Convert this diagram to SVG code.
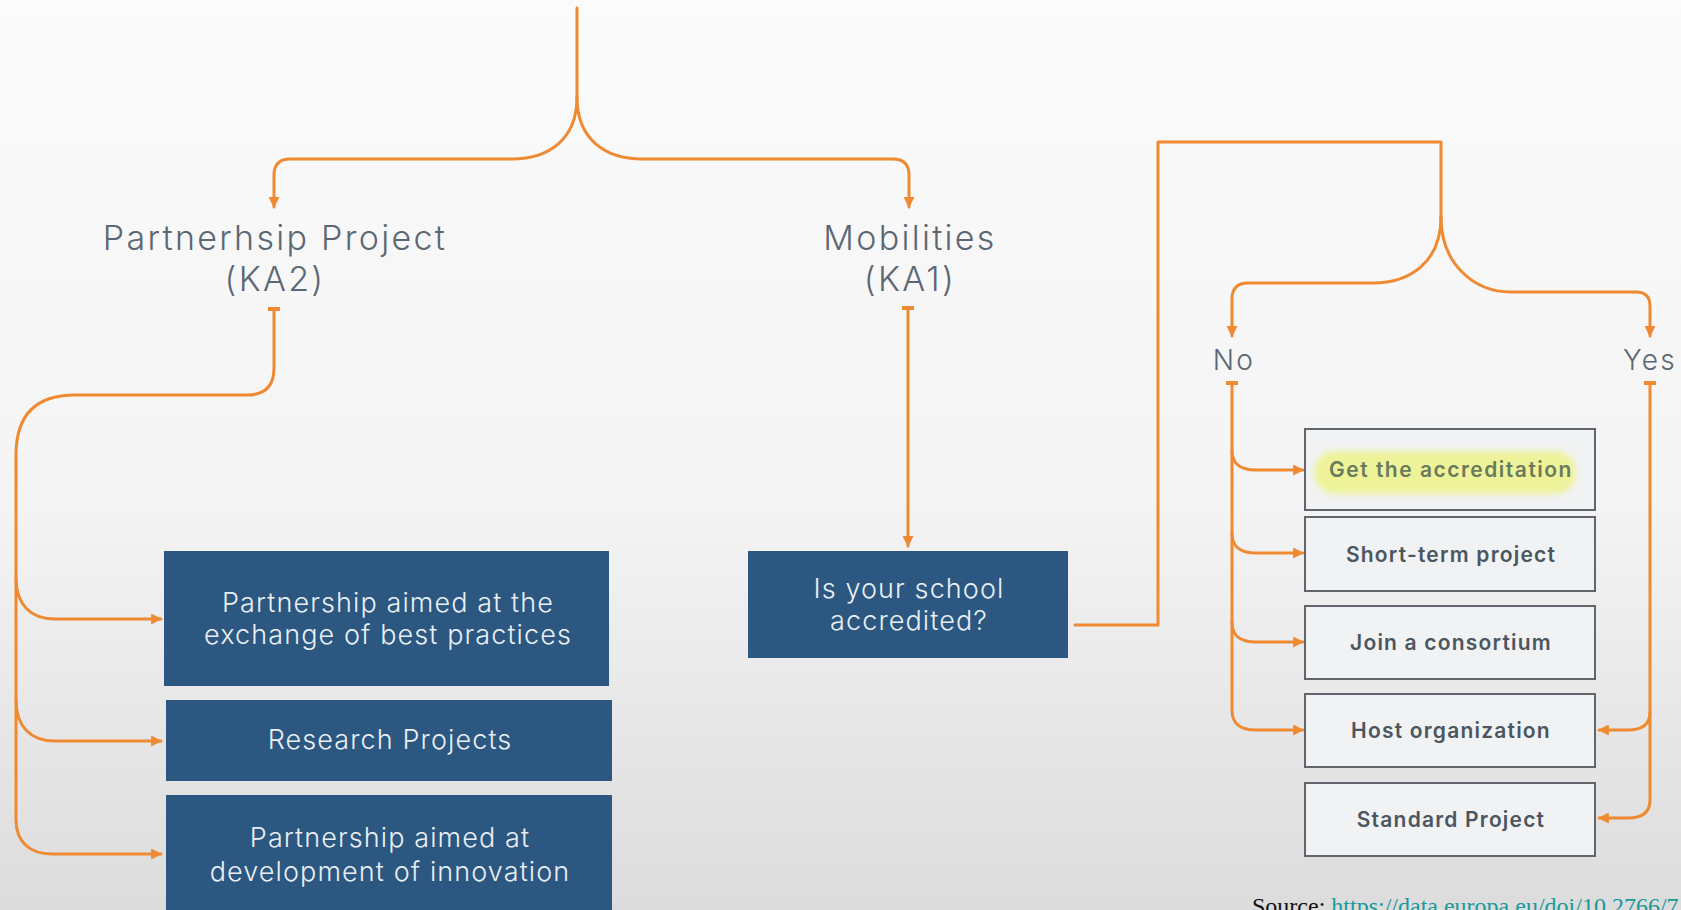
<svg xmlns="http://www.w3.org/2000/svg" width="1681" height="910" viewBox="0 0 1681 910">
  <defs>
    <linearGradient id="bg" x1="0" y1="0" x2="0" y2="1">
      <stop offset="0" stop-color="#fbfbfb"/>
      <stop offset="0.55" stop-color="#f4f4f4"/>
      <stop offset="1" stop-color="#dcdcdc"/>
    </linearGradient>
    <marker id="arrow" viewBox="0 0 10 10" refX="9" refY="5" markerWidth="11" markerHeight="11" markerUnits="userSpaceOnUse" orient="auto">
      <path d="M0,0 L10,5 L0,10 z" fill="#ef8a33"/>
    </marker>
    <marker id="tick" viewBox="0 0 4 12" refX="2" refY="6" markerWidth="4" markerHeight="12" markerUnits="userSpaceOnUse" orient="auto">
      <rect x="0" y="0" width="4" height="12" fill="#ef8a33"/>
    </marker>
    <filter id="soft" x="-10%" y="-30%" width="120%" height="160%">
      <feGaussianBlur stdDeviation="3"/>
    </filter>
    <style>
      .wire { fill: none; stroke: #ef8a33; stroke-width: 3; stroke-linecap: round; stroke-linejoin: round; }
      .to { marker-end: url(#arrow); }
      .from { marker-start: url(#tick); }
      .label { font-family: Inter, "Liberation Sans", sans-serif; font-weight: 300; fill: #5b6873; text-anchor: middle; letter-spacing: 2.3px; }
      .dark { fill: #2b5780; }
      .dark-text { font-family: Inter, "Liberation Sans", sans-serif; font-size: 27px; font-weight: 300; fill: #e9eff4; text-anchor: middle; letter-spacing: 1.1px; }
      .option { fill: #f1f2f3; stroke: #60666c; stroke-width: 2; }
      .option-text { font-family: Inter, "Liberation Sans", sans-serif; font-size: 21px; font-weight: 600; fill: #4b5661; text-anchor: middle; letter-spacing: 1.2px; }
    </style>
  </defs>

  <rect width="1681" height="910" fill="url(#bg)"/>

  <!-- connectors -->
  <g id="connectors">
    <path class="wire" d="M577,8 V97"/>
    <path class="wire to" d="M577,97 C577,140 548,159 512,159 H290 Q274,159 274,175 V207"/>
    <path class="wire to" d="M577,97 C577,140 606,159 642,159 H893 Q909,159 909,175 V207"/>

    <path class="wire from" d="M274,309 V368 Q274,395 247,395 H75 Q16,395 16,455 V820 C16,842 30,854 52,854 H161" marker-end="url(#arrow)"/>
    <path class="wire to" d="M16,578 C16,604 30,619 55,619 H161"/>
    <path class="wire to" d="M16,700 C16,726 30,741 55,741 H161"/>

    <path class="wire from to" d="M908,308 V546"/>

    <path class="wire" d="M1075,625 H1158 V142 H1441 V217"/>
    <path class="wire to" d="M1441,217 C1441,262 1410,283 1373,283 H1248 Q1232,283 1232,299 V336"/>
    <path class="wire to" d="M1441,217 C1441,265 1475,292 1511,292 H1636 Q1650,292 1650,306 V336"/>

    <path class="wire from" d="M1232,383 V710 C1232,724 1240,730 1256,730 H1303" marker-end="url(#arrow)"/>
    <path class="wire to" d="M1232,450 C1232,464 1240,470 1256,470 H1303"/>
    <path class="wire to" d="M1232,533 C1232,547 1240,553 1256,553 H1303"/>
    <path class="wire to" d="M1232,622 C1232,636 1240,642 1256,642 H1303"/>

    <path class="wire from" d="M1650,383 V800 C1650,812 1642,818 1628,818 H1599" marker-end="url(#arrow)"/>
    <path class="wire to" d="M1650,712 C1650,724 1642,730 1628,730 H1599"/>
  </g>

  <!-- programme labels -->
  <g id="ka2">
    <text class="label" font-size="34" x="275" y="250">Partnerhsip Project</text>
    <text class="label" font-size="34" x="275" y="291">(KA2)</text>
  </g>
  <g id="ka1">
    <text class="label" font-size="34" x="910" y="250">Mobilities</text>
    <text class="label" font-size="34" x="910" y="291">(KA1)</text>
  </g>

  <!-- KA2 project types -->
  <g id="best-practices">
    <rect class="dark" x="164" y="551" width="445" height="135"/>
    <text class="dark-text" x="388" y="612">Partnership aimed at the</text>
    <text class="dark-text" x="388" y="644">exchange of best practices</text>
  </g>
  <g id="research">
    <rect class="dark" x="166" y="700" width="446" height="81"/>
    <text class="dark-text" x="390" y="749">Research Projects</text>
  </g>
  <g id="innovation">
    <rect class="dark" x="166" y="795" width="446" height="120"/>
    <text class="dark-text" x="390" y="847">Partnership aimed at</text>
    <text class="dark-text" x="390" y="881">development of innovation</text>
  </g>

  <!-- KA1 question -->
  <g id="accredited">
    <rect class="dark" x="748" y="551" width="320" height="107"/>
    <text class="dark-text" x="909" y="598">Is your school</text>
    <text class="dark-text" x="909" y="630">accredited?</text>
  </g>

  <g id="no">
    <text class="label" font-size="28" x="1234" y="370" letter-spacing="1">No</text>
  </g>
  <g id="yes">
    <text class="label" font-size="28" x="1650" y="370" letter-spacing="1">Yes</text>
  </g>

  <!-- KA1 options -->
  <g id="get-accreditation">
    <rect class="option" x="1305" y="429" width="290" height="81"/>
    <rect x="1314" y="451" width="262" height="43" rx="21" fill="#eef39a" filter="url(#soft)"/>
    <text class="option-text" x="1451" y="477" style="fill:#6b7a5b; letter-spacing:1.5px">Get the accreditation</text>
  </g>
  <g id="short-term">
    <rect class="option" x="1305" y="517" width="290" height="74"/>
    <text class="option-text" x="1451" y="562">Short-term project</text>
  </g>
  <g id="consortium">
    <rect class="option" x="1305" y="606" width="290" height="73"/>
    <text class="option-text" x="1451" y="650">Join a consortium</text>
  </g>
  <g id="host">
    <rect class="option" x="1305" y="694" width="290" height="73"/>
    <text class="option-text" x="1451" y="738">Host organization</text>
  </g>
  <g id="standard">
    <rect class="option" x="1305" y="783" width="290" height="73"/>
    <text class="option-text" x="1451" y="827">Standard Project</text>
  </g>

  <!-- source note, running off the lower edge -->
  <text x="1252" y="914" font-family="'Liberation Serif', serif" font-size="24" fill="#111111">Source: <tspan fill="#18999a">https://data.europa.eu/doi/10.2766/7</tspan></text>
</svg>
